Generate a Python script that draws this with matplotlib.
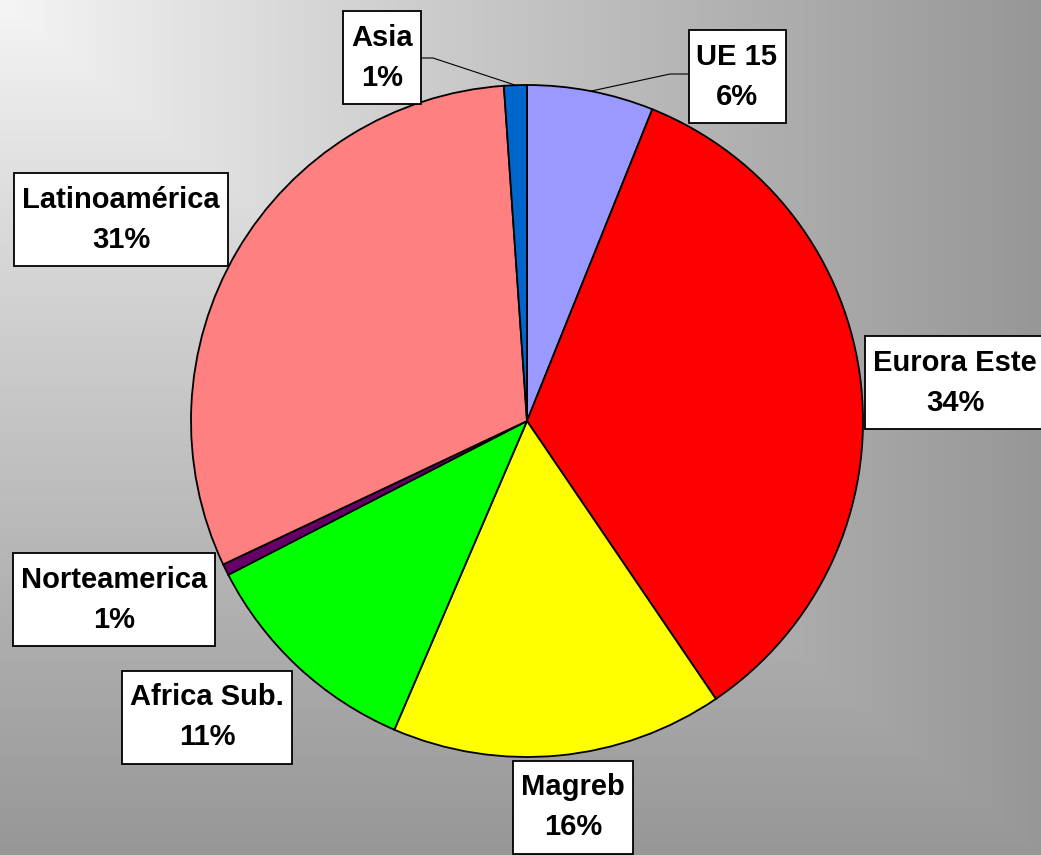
import numpy as np
import matplotlib.pyplot as plt
from matplotlib.patches import Rectangle

# datos (porcentaje por origen)
origenes = ["UE 15", "Eurora Este", "Magreb", "Africa Sub.", "Norteamerica", "Latinoamérica", "Asia"]
valores = [6.1, 34.5, 16.0, 11.0, 0.55, 31.0, 1.1]
colores = ["#9999FF", "#FF0000", "#FFFF00", "#00FF00", "#660066", "#FF8080", "#0066CC"]

# posiciones de las etiquetas (pixeles, y hacia abajo)
etiq_x = [737, 955, 573, 207, 114, 121, 382]
etiq_y = [77, 383, 807, 717, 600, 220, 58]

W, H = 1041, 855
fig = plt.figure(figsize=(W / 100, H / 100), dpi=100)
ax = fig.add_axes([0, 0, 1, 1])

# fondo degradado desde la esquina superior izquierda
xx, yy = np.meshgrid(np.linspace(0, 1, 400), np.linspace(0, 1, 330))
t = np.maximum(xx, yy)
g = 246 - 95 * np.clip(t, 0, 1) ** 0.92
img = np.dstack([g, g, g]) / 255.0
ax.imshow(img, extent=[0, W, 0, H], origin="upper", zorder=0, aspect="auto")

cx, cy, r = 527, H - 421, 336
wedges, _ = ax.pie(valores, colors=colores, startangle=90, counterclock=False,
                   center=(cx, cy), radius=r, frame=True,
                   wedgeprops=dict(edgecolor="black", linewidth=1.3))
ax.set_xlim(0, W)
ax.set_ylim(0, H)
ax.set_aspect("equal")
ax.axis("off")

total = sum(valores)
textos = []
for i, nombre in enumerate(origenes):
    pct = int(np.floor(valores[i] / total * 100 + 0.5))
    textos.append(ax.text(etiq_x[i], H - etiq_y[i], nombre + "\n" + str(pct) + "%",
                          ha="center", va="center", multialignment="center",
                          fontsize=21, fontweight="bold", family="Liberation Sans",
                          linespacing=1.55, zorder=6))

# cajas blancas alrededor de las etiquetas
fig.canvas.draw()
inv = ax.transData.inverted()
for i, tx in enumerate(textos):
    bb = tx.get_window_extent()
    (x0, _), (x1, _) = inv.transform([[bb.x0, bb.y0], [bb.x1, bb.y1]])
    ancho = (x1 - x0) + 16
    alto = 93
    ax.add_patch(Rectangle((etiq_x[i] - ancho / 2, H - etiq_y[i] - alto / 2), ancho, alto,
                           facecolor="white", edgecolor="black", linewidth=1.3, zorder=5))

# lineas guia para Asia y UE 15
def punto_borde(w):
    ang = np.deg2rad((w.theta1 + w.theta2) / 2)
    return cx + r * np.cos(ang), cy + r * np.sin(ang)

px, py = punto_borde(wedges[6])
ax.plot([418, 433, px], [H - 58, H - 58, py], color="black", lw=0.8, zorder=4)
px, py = punto_borde(wedges[0])
ax.plot([690, 670, px], [H - 74, H - 74, py], color="black", lw=0.8, zorder=4)

fig.savefig("out.png", dpi=100)
